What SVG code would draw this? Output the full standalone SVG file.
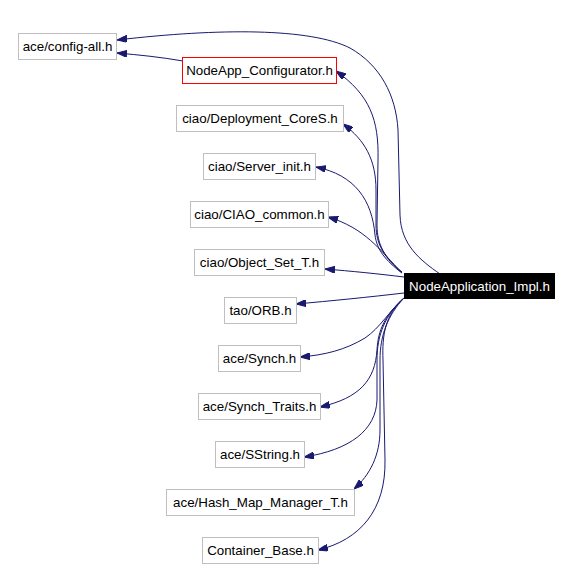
<svg xmlns="http://www.w3.org/2000/svg" width="571" height="568" viewBox="0 0 571 568">
<style>
.n rect{fill:#ffffff;stroke:#bfbfbf;stroke-width:1}
.n text{font-family:"Liberation Sans",Arial,sans-serif;font-size:13.33px;fill:#000000;text-anchor:middle}
.e path{fill:none;stroke:#191970;stroke-width:1;marker-end:url(#arr)}
</style>
<defs>
<marker id="arr" viewBox="0 0 10 7" refX="10" refY="3.5" markerWidth="10" markerHeight="7" markerUnits="userSpaceOnUse" orient="auto">
<path d="M0,0 L10,3.5 L0,7 z" fill="#191970" stroke="#191970"/>
</marker>
</defs>
<rect x="0" y="0" width="571" height="568" fill="#ffffff"/>
<g id="connectors" class="e">
<path d="M440,274 C420,260 401,245 400,215 L398,130 C396,95 380,65 350,48 C310,28 220,28 117,40"/>
<path d="M183,61 C160,57 140,55 117,53"/>
<path d="M402,272 C385,258 377,245 377,225 L378,160 C379,120 370,95 336,71"/>
<path d="M402,273 C385,258 376,245 376,225 L376,190 C376,160 365,140 343,124"/>
<path d="M402,273 C385,260 377,250 375,235 C372,200 355,175 316,167"/>
<path d="M402,273 C380,250 365,228 328,217"/>
<path d="M404,277 C380,274 350,271 325,269"/>
<path d="M404,293 C370,297 330,301 296,304"/>
<path d="M404,298 C390,310 380,328 365,338 C345,350 325,355 300,357"/>
<path d="M404,298 C385,315 378,330 377,350 C375,380 360,398 320,407"/>
<path d="M404,298 C385,315 377,335 377,360 L377,400 C376,430 350,450 304,457"/>
<path d="M404,298 C388,315 380,335 380,360 L380,430 C380,455 370,475 354,489"/>
<path d="M404,298 C385,315 382,335 383,360 L385,460 C386,510 360,540 318,550"/>
</g>
<g id="node-config-all" class="n"><rect x="18.5" y="33.5" width="98" height="26"/><text x="67.5" y="51">ace/config-all.h</text></g>
<g id="node-configurator" class="n"><rect x="182.5" y="57.5" width="154" height="26" style="stroke:#ff0000"/><text x="259.5" y="75">NodeApp_Configurator.h</text></g>
<g id="node-deployment" class="n"><rect x="176.5" y="105.5" width="167" height="26"/><text x="260" y="123">ciao/Deployment_CoreS.h</text></g>
<g id="node-server-init" class="n"><rect x="203.5" y="153.5" width="112" height="26"/><text x="259.5" y="171">ciao/Server_init.h</text></g>
<g id="node-ciao-common" class="n"><rect x="190.5" y="201.5" width="138" height="26"/><text x="259.5" y="219">ciao/CIAO_common.h</text></g>
<g id="node-object-set" class="n"><rect x="194.5" y="249.5" width="130" height="26"/><text x="259.5" y="267">ciao/Object_Set_T.h</text></g>
<g id="node-impl" class="n"><rect x="404.5" y="273.5" width="150" height="25" style="fill:#000000;stroke:#000000"/><text x="479.5" y="291" style="fill:#ffffff">NodeApplication_Impl.h</text></g>
<g id="node-orb" class="n"><rect x="224.5" y="297.5" width="72" height="26"/><text x="260.5" y="315">tao/ORB.h</text></g>
<g id="node-synch" class="n"><rect x="218.5" y="345.5" width="82" height="26"/><text x="259.5" y="363">ace/Synch.h</text></g>
<g id="node-synch-traits" class="n"><rect x="198.5" y="393.5" width="122" height="26"/><text x="259.5" y="411">ace/Synch_Traits.h</text></g>
<g id="node-sstring" class="n"><rect x="215.5" y="441.5" width="89" height="26"/><text x="260" y="459">ace/SString.h</text></g>
<g id="node-hash-map" class="n"><rect x="166.5" y="489.5" width="188" height="26"/><text x="260.5" y="507">ace/Hash_Map_Manager_T.h</text></g>
<g id="node-container-base" class="n"><rect x="202.5" y="537.5" width="116" height="26"/><text x="260.5" y="555">Container_Base.h</text></g>
</svg>
